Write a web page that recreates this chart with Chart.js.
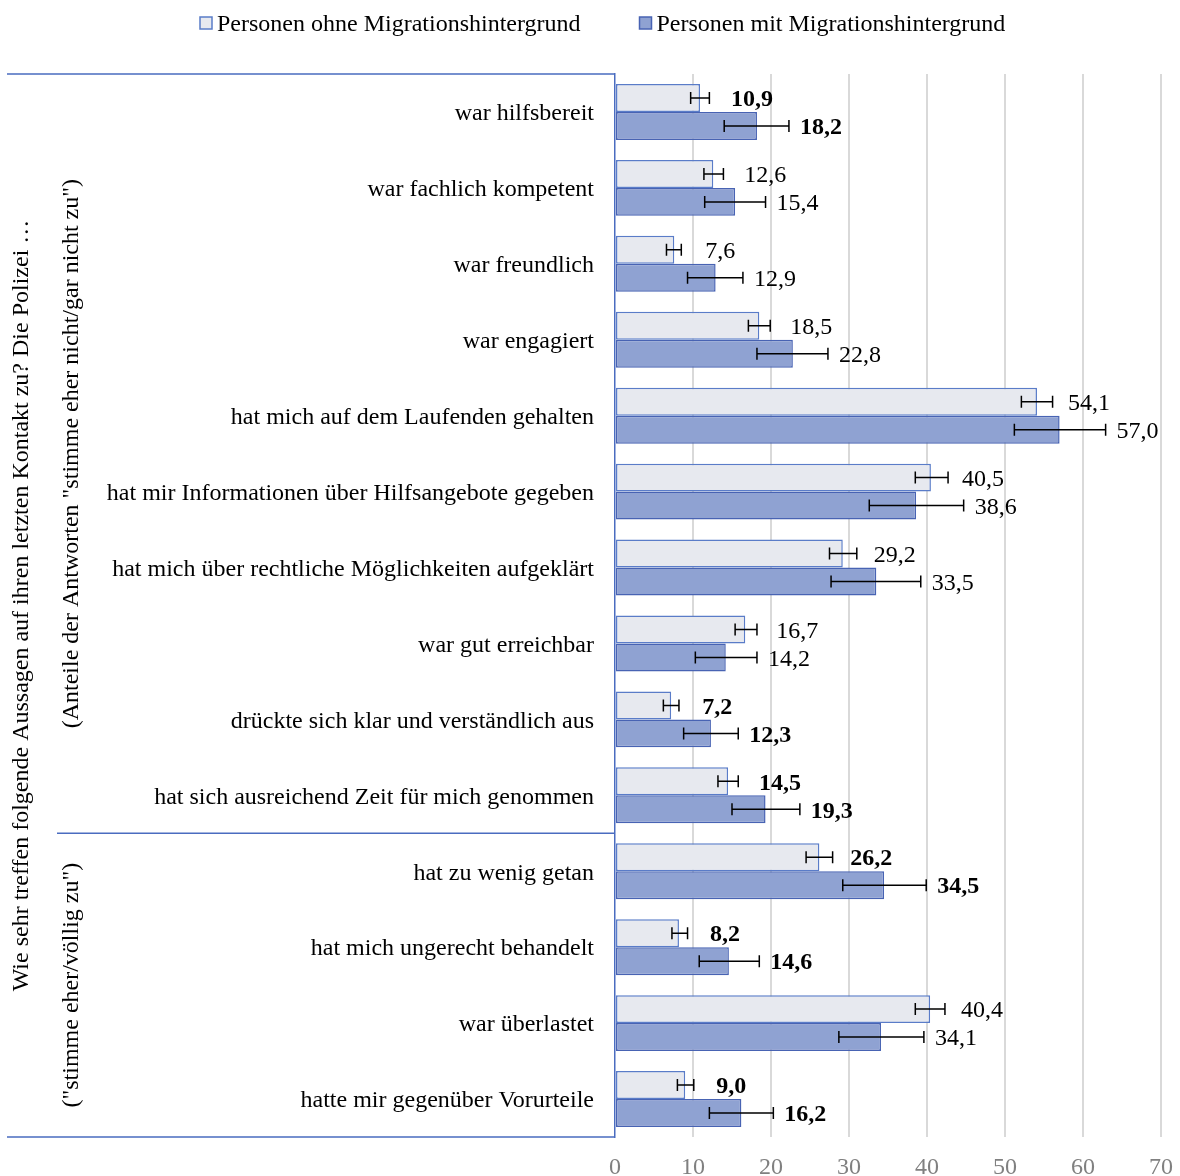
<!DOCTYPE html>
<html>
<head>
<meta charset="utf-8">
<script src="https://cdn.jsdelivr.net/npm/chart.js@4.4.1/dist/chart.umd.min.js"></script>
<style>
  body { margin: 0; background: #fff; }
</style>
</head>
<body>
<canvas id="graph" width="1180" height="1176"></canvas>
<script>
var categories = [
  "war hilfsbereit",
  "war fachlich kompetent",
  "war freundlich",
  "war engagiert",
  "hat mich auf dem Laufenden gehalten",
  "hat mir Informationen über Hilfsangebote gegeben",
  "hat mich über rechtliche Möglichkeiten aufgeklärt",
  "war gut erreichbar",
  "drückte sich klar und verständlich aus",
  "hat sich ausreichend Zeit für mich genommen",
  "hat zu wenig getan",
  "hat mich ungerecht behandelt",
  "war überlastet",
  "hatte mir gegenüber Vorurteile"
];

var seriesNames = ["Personen ohne Migrationshintergrund", "Personen mit Migrationshintergrund"];

var ohneValues = [10.9, 12.6, 7.6, 18.5, 54.1, 40.5, 29.2, 16.7, 7.2, 14.5, 26.2, 8.2, 40.4, 9.0];
var mitValues  = [18.2, 15.4, 12.9, 22.8, 57.0, 38.6, 33.5, 14.2, 12.3, 19.3, 34.5, 14.6, 34.1, 16.2];

// Konfidenzintervalle (aus dem Bild geschätzt)
var ohneLow  = [9.7, 11.4, 6.6, 17.1, 52.1, 38.5, 27.5, 15.4, 6.2, 13.2, 24.5, 7.3, 38.5, 8.0];
var ohneHigh = [12.1, 13.9, 8.5, 19.9, 56.1, 42.7, 31.0, 18.2, 8.2, 15.8, 27.9, 9.3, 42.3, 10.1];
var mitLow   = [14.0, 11.5, 9.3, 18.2, 51.2, 32.6, 27.7, 10.3, 8.8, 15.0, 29.2, 10.8, 28.7, 12.1];
var mitHigh  = [22.3, 19.3, 16.4, 27.3, 62.9, 44.7, 39.2, 18.2, 15.8, 23.7, 39.9, 18.5, 39.6, 20.3];

// signifikante Unterschiede fett
var boldRows = [true, false, false, false, false, false, false, false, true, true, true, true, false, true];

var groupLabels = ['(Anteile der Antworten "stimme eher nicht/gar nicht zu")', '("stimme eher/völlig zu")'];
var groupSizes = [10, 4];
var outerTitle = "Wie sehr treffen folgende Aussagen auf ihren letzten Kontakt zu? Die Polizei …";

var xMin = 0, xMax = 70, xStep = 10;

var FONT = '"Liberation Serif", "Times New Roman", serif';
var ohneFill = "#e7e9ef", ohneBorder = "#5a7cc8";
var mitFill = "#8fa2d2", mitBorder = "#4863b3";
var lineBlue = "#4a6cc0";

function fmt(v) {
  return v.toFixed(1).replace(".", ",");
}

var extrasPlugin = {
  id: "extras",
  afterDatasetsDraw: function (chart) {
    var ctx = chart.ctx;
    var xs = chart.scales.x;
    var lows = [ohneLow, mitLow];
    var highs = [ohneHigh, mitHigh];
    var vals = [ohneValues, mitValues];
    ctx.save();
    for (var d = 0; d < 2; d++) {
      var meta = chart.getDatasetMeta(d);
      meta.data.forEach(function (bar, i) {
        var y = bar.y;
        var x1 = xs.getPixelForValue(lows[d][i]);
        var x2 = xs.getPixelForValue(highs[d][i]);
        ctx.strokeStyle = "#000";
        ctx.lineWidth = 1.5;
        ctx.beginPath();
        ctx.moveTo(x1, y); ctx.lineTo(x2, y);
        ctx.moveTo(x1, y - 6); ctx.lineTo(x1, y + 6);
        ctx.moveTo(x2, y - 6); ctx.lineTo(x2, y + 6);
        ctx.stroke();

        ctx.fillStyle = "#000";
        ctx.font = (boldRows[i] ? "bold " : "") + "24px " + FONT;
        ctx.textAlign = "left";
        ctx.textBaseline = "middle";
        var lx = d === 0 ? bar.x + 31 : x2 + 11;
        ctx.fillText(fmt(vals[d][i]), lx, y + 2);
      });
    }
    ctx.restore();
  },
  afterDraw: function (chart) {
    var ctx = chart.ctx;
    var area = chart.chartArea;
    var ys = chart.scales.y;
    ctx.save();

    // Klammerlinien links
    var split = (ys.getPixelForValue(groupSizes[0] - 1) + ys.getPixelForValue(groupSizes[0])) / 2;
    ctx.strokeStyle = lineBlue;
    ctx.lineWidth = 1.5;
    ctx.beginPath();
    ctx.moveTo(7, area.top); ctx.lineTo(area.left, area.top);
    ctx.moveTo(57, split); ctx.lineTo(area.left, split);
    ctx.moveTo(7, area.bottom); ctx.lineTo(area.left, area.bottom);
    ctx.stroke();

    // gedrehte Beschriftungen
    ctx.fillStyle = "#000";
    ctx.font = "24px " + FONT;
    ctx.textAlign = "center";
    ctx.textBaseline = "middle";
    function vtext(t, x, y) {
      ctx.save();
      ctx.translate(x, y);
      ctx.rotate(-Math.PI / 2);
      ctx.fillText(t, 0, 0);
      ctx.restore();
    }
    vtext(outerTitle, 22, (area.top + area.bottom) / 2);
    vtext(groupLabels[0], 72, (area.top + split) / 2);
    vtext(groupLabels[1], 72, (split + area.bottom) / 2);

    // Legende
    ctx.textAlign = "left";
    var fills = [ohneFill, mitFill];
    var borders = [ohneBorder, mitBorder];
    var lx = 200;
    for (var k = 0; k < 2; k++) {
      ctx.fillStyle = fills[k];
      ctx.fillRect(lx, 17, 12, 12);
      ctx.strokeStyle = borders[k];
      ctx.lineWidth = 1.5;
      ctx.strokeRect(lx, 17, 12, 12);
      ctx.fillStyle = "#000";
      ctx.fillText(seriesNames[k], lx + 17, 25);
      lx += 17 + ctx.measureText(seriesNames[k]).width + 59;
    }
    ctx.restore();
  }
};

var chart = new Chart(document.getElementById("graph").getContext("2d"), {
  type: "bar",
  data: {
    labels: categories,
    datasets: [
      {
        label: seriesNames[0],
        data: ohneValues,
        backgroundColor: ohneFill,
        borderColor: ohneBorder,
        borderWidth: 1.5,
        borderSkipped: false
      },
      {
        label: seriesNames[1],
        data: mitValues,
        backgroundColor: mitFill,
        borderColor: mitBorder,
        borderWidth: 1.5,
        borderSkipped: false
      }
    ]
  },
  options: {
    indexAxis: "y",
    responsive: false,
    animation: false,
    devicePixelRatio: 1,
    categoryPercentage: 0.737,
    barPercentage: 1.0,
    layout: { padding: { top: 74, right: 19, left: 0, bottom: 0 } },
    plugins: {
      legend: { display: false },
      tooltip: { enabled: false }
    },
    scales: {
      x: {
        type: "linear",
        position: "bottom",
        min: xMin,
        max: xMax,
        ticks: {
          stepSize: xStep,
          color: "#808080",
          padding: 16,
          font: { family: FONT, size: 24 }
        },
        grid: {
          drawTicks: false,
          lineWidth: 2,
          color: function (c) {
            return c.tick && c.tick.value === 0 ? "rgba(0,0,0,0)" : "#d9d9d9";
          }
        },
        border: { display: false },
        afterFit: function (scale) {
          scale.height = 39;
          scale.paddingLeft = 0;
          scale.paddingRight = 0;
        }
      },
      y: {
        ticks: {
          color: "#000",
          padding: 21,
          labelOffset: 2,
          font: { family: FONT, size: 24 }
        },
        grid: { display: false, drawTicks: false },
        border: { display: true, color: lineBlue, width: 1.5 },
        afterFit: function (scale) { scale.width = 615; }
      }
    }
  },
  plugins: [extrasPlugin]
});
</script>
</body>
</html>
